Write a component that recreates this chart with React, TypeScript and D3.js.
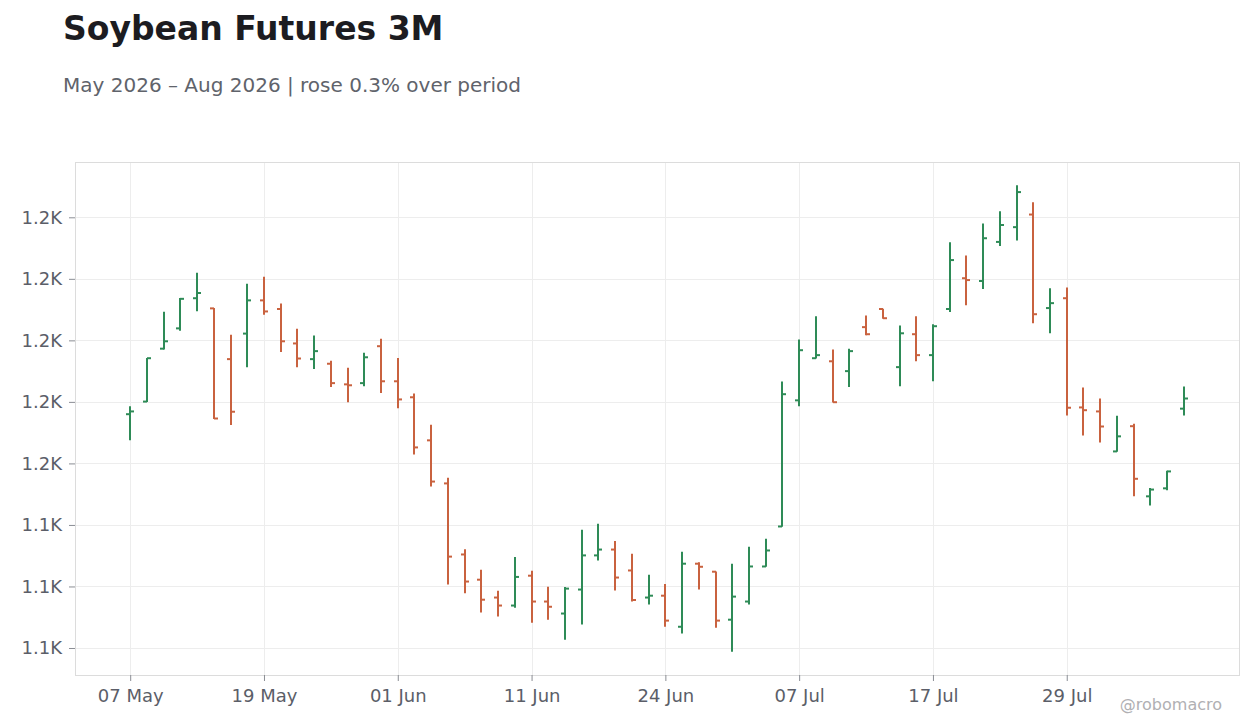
import { useRef, useEffect } from "react";
import * as d3 from "d3";

// trading days (US holidays skipped)
const dates = [
  "2026-05-07", "2026-05-08", "2026-05-11", "2026-05-12", "2026-05-13", "2026-05-14",
  "2026-05-15", "2026-05-18", "2026-05-19", "2026-05-20", "2026-05-21", "2026-05-22",
  "2026-05-26", "2026-05-27", "2026-05-28", "2026-05-29", "2026-06-01", "2026-06-02",
  "2026-06-03", "2026-06-04", "2026-06-05", "2026-06-08", "2026-06-09", "2026-06-10",
  "2026-06-11", "2026-06-12", "2026-06-15", "2026-06-16", "2026-06-17", "2026-06-18",
  "2026-06-22", "2026-06-23", "2026-06-24", "2026-06-25", "2026-06-26", "2026-06-29",
  "2026-06-30", "2026-07-01", "2026-07-02", "2026-07-06", "2026-07-07", "2026-07-08",
  "2026-07-09", "2026-07-10", "2026-07-13", "2026-07-14", "2026-07-15", "2026-07-16",
  "2026-07-17", "2026-07-20", "2026-07-21", "2026-07-22", "2026-07-23", "2026-07-24",
  "2026-07-27", "2026-07-28", "2026-07-29", "2026-07-30", "2026-07-31", "2026-08-03",
  "2026-08-04", "2026-08-05", "2026-08-06", "2026-08-07",
];

const opens = [
  1176.0, 1180.1, 1197.3, 1203.9, 1213.7, 1210.4, 1193.9, 1202.2, 1213.0, 1210.2,
  1199.0, 1193.9, 1192.4, 1185.7, 1186.1, 1198.1, 1186.7, 1181.5, 1167.5, 1153.5,
  1130.4, 1122.2, 1116.4, 1113.8, 1123.5, 1115.1, 1111.2, 1119.0, 1130.1, 1132.0,
  1125.2, 1116.4, 1117.0, 1106.9, 1127.4, 1124.8, 1109.2, 1115.1, 1126.5, 1139.5,
  1180.5, 1194.2, 1193.2, 1190.0, 1204.3, 1210.2, 1191.3, 1202.0, 1195.2, 1210.2,
  1220.2, 1219.3, 1232.0, 1236.8, 1240.9, 1210.5, 1213.7, 1178.2, 1176.9, 1163.9,
  1172.1, 1149.3, 1151.9, 1177.8,
];

const highs = [
  1178.6, 1194.3, 1209.3, 1213.8, 1222.0, 1210.5, 1201.8, 1218.4, 1220.7, 1212.0,
  1203.8, 1201.6, 1193.4, 1191.1, 1196.0, 1200.5, 1194.3, 1182.7, 1172.6, 1155.3,
  1132.1, 1125.4, 1118.6, 1129.6, 1125.1, 1119.9, 1119.8, 1138.4, 1140.4, 1134.8,
  1130.6, 1123.8, 1120.8, 1131.3, 1127.9, 1124.9, 1127.4, 1132.9, 1135.5, 1186.6,
  1200.3, 1207.8, 1197.0, 1197.3, 1208.1, 1210.3, 1204.8, 1207.8, 1205.2, 1231.9,
  1227.6, 1238.0, 1242.0, 1250.4, 1244.9, 1216.9, 1217.2, 1184.7, 1181.1, 1175.5,
  1172.9, 1152.0, 1157.6, 1185.0,
];

const lows = [
  1167.5, 1180.0, 1197.0, 1203.1, 1209.5, 1174.4, 1172.5, 1191.3, 1208.3, 1196.2,
  1191.3, 1190.7, 1184.8, 1179.9, 1185.1, 1182.9, 1177.9, 1162.9, 1152.5, 1120.6,
  1117.8, 1111.5, 1110.2, 1113.1, 1108.2, 1109.2, 1102.7, 1107.6, 1128.4, 1118.7,
  1115.1, 1114.1, 1106.9, 1104.7, 1119.0, 1106.6, 1098.8, 1114.1, 1126.4, 1139.4,
  1178.6, 1194.1, 1179.8, 1184.8, 1201.7, 1207.0, 1185.1, 1193.2, 1186.7, 1209.2,
  1211.4, 1216.7, 1230.7, 1232.5, 1205.6, 1202.3, 1175.6, 1169.1, 1166.8, 1163.8,
  1149.3, 1146.3, 1151.3, 1175.6,
];

const closes = [
  1176.9, 1194.2, 1199.7, 1213.5, 1215.4, 1174.6, 1176.8, 1213.0, 1209.4, 1199.7,
  1194.1, 1196.5, 1186.1, 1185.4, 1194.5, 1186.7, 1180.8, 1165.2, 1154.1, 1129.7,
  1121.6, 1115.7, 1113.8, 1123.1, 1115.1, 1113.4, 1119.3, 1130.1, 1132.0, 1122.9,
  1115.6, 1117.0, 1108.9, 1127.4, 1126.4, 1108.9, 1116.7, 1126.5, 1131.7, 1182.5,
  1196.8, 1195.2, 1179.9, 1196.5, 1202.0, 1207.2, 1202.3, 1195.2, 1204.6, 1226.1,
  1219.6, 1233.2, 1237.5, 1248.2, 1208.5, 1212.1, 1178.1, 1177.3, 1172.0, 1168.8,
  1155.0, 1151.5, 1157.4, 1181.1,
];

const yTicks = [1100, 1120, 1140, 1160, 1180, 1200, 1220, 1240];
const xTickDates = [
  "2026-05-07", "2026-05-19", "2026-06-01", "2026-06-11",
  "2026-06-24", "2026-07-07", "2026-07-17", "2026-07-29",
];

const title = "Soybean Futures 3M";
const subtitle = "May 2026 – Aug 2026 | rose 0.3% over period";
const credit = "@robomacro";

const UP = "#2e8b57";
const DOWN = "#c9623f";

const App = () => {
  const chartRef = useRef<HTMLDivElement | null>(null);

  useEffect(() => {
    if (chartRef.current === null) return;
    document.body.style.margin = "0";

    const width = 1260;
    const height = 728;
    const plot = { left: 75, top: 162, right: 1239, bottom: 675 };
    const font = "'DejaVu Sans', sans-serif";

    d3.select(chartRef.current).select("svg").remove();

    const svg = d3
      .select(chartRef.current)
      .append("svg")
      .attr("width", width)
      .attr("height", height)
      .style("display", "block")
      .style("font-family", font);

    // title + subtitle
    svg
      .append("text")
      .attr("x", 63)
      .attr("y", 40)
      .attr("font-size", 33)
      .attr("font-weight", "bold")
      .attr("fill", "#1c1c21")
      .text(title);

    svg
      .append("text")
      .attr("x", 63)
      .attr("y", 92)
      .attr("font-size", 20)
      .attr("fill", "#60636b")
      .text(subtitle);

    const xScale = d3
      .scalePoint<string>()
      .domain(dates)
      .range([plot.left, plot.right])
      .padding(3.3);

    const lo = d3.min(lows) ?? 0;
    const hi = d3.max(highs) ?? 0;
    const pad = (hi - lo) * 0.05;
    const yScale = d3
      .scaleLinear()
      .domain([lo - pad, hi + pad])
      .range([plot.bottom, plot.top]);

    // grid
    const grid = svg.append("g").attr("stroke", "#ededed").attr("stroke-width", 1);
    yTicks.forEach((t) => {
      grid
        .append("line")
        .attr("x1", plot.left)
        .attr("x2", plot.right)
        .attr("y1", Math.round(yScale(t)) + 0.5)
        .attr("y2", Math.round(yScale(t)) + 0.5);
    });
    xTickDates.forEach((d) => {
      const x = Math.round(xScale(d) ?? 0) + 0.5;
      grid
        .append("line")
        .attr("x1", x)
        .attr("x2", x)
        .attr("y1", plot.top)
        .attr("y2", plot.bottom);
    });

    // plot frame
    svg
      .append("rect")
      .attr("x", plot.left + 0.5)
      .attr("y", plot.top + 0.5)
      .attr("width", plot.right - plot.left)
      .attr("height", plot.bottom - plot.top)
      .attr("fill", "none")
      .attr("stroke", "#dcdcdc");

    // axes
    const fmtK = d3.format(".2s");
    const yAxis = svg
      .append("g")
      .attr("transform", `translate(${plot.left},0)`)
      .call(
        d3
          .axisLeft(yScale)
          .tickValues(yTicks)
          .tickSize(6)
          .tickPadding(7)
          .tickFormat((d) => fmtK(d as number).replace("k", "K"))
      );

    const fmtDate = d3.timeFormat("%d %b");
    const parse = d3.timeParse("%Y-%m-%d");
    const xAxis = svg
      .append("g")
      .attr("transform", `translate(0,${plot.bottom})`)
      .call(
        d3
          .axisBottom(xScale)
          .tickValues(xTickDates)
          .tickSize(6)
          .tickPadding(8)
          .tickFormat((d) => fmtDate(parse(d) as Date))
      );

    [yAxis, xAxis].forEach((ax) => {
      ax.select(".domain").remove();
      ax.selectAll(".tick line").attr("stroke", "#8a8d94");
      ax.selectAll(".tick text")
        .attr("fill", "#5b5e68")
        .attr("font-size", 18)
        .attr("font-family", font);
    });

    // OHLC bars
    const idx = d3.range(dates.length);
    const bars = svg
      .append("g")
      .selectAll("g")
      .data(idx)
      .enter()
      .append("g")
      .attr("stroke", (i) => (closes[i] >= opens[i] ? UP : DOWN))
      .attr("stroke-width", 2);

    const xc = (i: number) => Math.round(xScale(dates[i]) ?? 0);

    bars
      .append("line")
      .attr("x1", xc)
      .attr("x2", xc)
      .attr("y1", (i) => yScale(highs[i]))
      .attr("y2", (i) => yScale(lows[i]));

    bars
      .append("line")
      .attr("x1", (i) => xc(i) - 4)
      .attr("x2", (i) => xc(i))
      .attr("y1", (i) => yScale(opens[i]))
      .attr("y2", (i) => yScale(opens[i]));

    bars
      .append("line")
      .attr("x1", (i) => xc(i))
      .attr("x2", (i) => xc(i) + 4)
      .attr("y1", (i) => yScale(closes[i]))
      .attr("y2", (i) => yScale(closes[i]));

    // credit
    svg
      .append("text")
      .attr("x", 1222)
      .attr("y", 710)
      .attr("text-anchor", "end")
      .attr("font-size", 16)
      .attr("fill", "#b0b0b3")
      .text(credit);
  }, []);

  return <div ref={chartRef} />;
};

export default App;
